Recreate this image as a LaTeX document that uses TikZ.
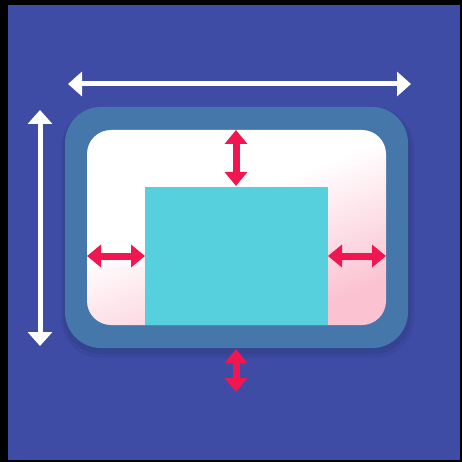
\documentclass[tikz,border=0pt]{standalone}
\usetikzlibrary{arrows.meta}
\definecolor{bgblue}{HTML}{3E4CA6}
\definecolor{framebl}{HTML}{4577AA}
\definecolor{cyanbox}{HTML}{57D0DE}
\definecolor{redarr}{HTML}{F0164F}
\definecolor{pinkish}{HTML}{FBC3D2}
\pgfdeclareverticalshading{pinkfade}{100bp}{color(0bp)=(pinkish); color(27bp)=(pinkish); color(56bp)=(white); color(100bp)=(white)}
\tikzset{
  whitearrow/.style={draw=white, line width=5pt, {Triangle[width=24pt,length=14pt]}-{Triangle[width=24pt,length=14pt]}},
  redarrow/.style={draw=redarr, line width=7pt, {Triangle[width=22pt,length=14pt]}-{Triangle[width=22pt,length=14pt]}},
}
\begin{document}
\begin{tikzpicture}[x=1pt,y=-1pt]
\useasboundingbox (0,0) rectangle (462,462);
\fill[black] (0,0) rectangle (462,462);
\fill[bgblue] (8,5) rectangle (460,460);
% soft shadow
\fill[black,opacity=0.06,rounded corners=40pt] (61,108) rectangle (414,358);
\fill[black,opacity=0.06,rounded corners=38pt] (63,108) rectangle (411,354);
\fill[framebl,rounded corners=36pt] (65,107) rectangle (408,348);
\shade[rounded corners=24pt, shading=pinkfade, shading angle=22] (87,130) rectangle (386,325);
\fill[cyanbox] (145,187) rectangle (328,325);
% white dimension arrows
\coordinate (hl) at (68,84); \coordinate (hr) at (411,84);
\coordinate (vt) at (40,110); \coordinate (vb) at (40,346);
\draw[whitearrow] (hl) -- (hr);
\draw[whitearrow] (vt) -- (vb);
% red arrows
\coordinate (tt) at (236,130); \coordinate (tb) at (236,186);
\coordinate (ll) at (87,256); \coordinate (lr) at (145,256);
\coordinate (rl) at (328,256); \coordinate (rr) at (386,256);
\coordinate (bt) at (236,349); \coordinate (bb) at (236,392);
\draw[redarrow] (tt) -- (tb);
\draw[redarrow] (ll) -- (lr);
\draw[redarrow] (rl) -- (rr);
\draw[redarrow] (bt) -- (bb);
\end{tikzpicture}
\end{document}
